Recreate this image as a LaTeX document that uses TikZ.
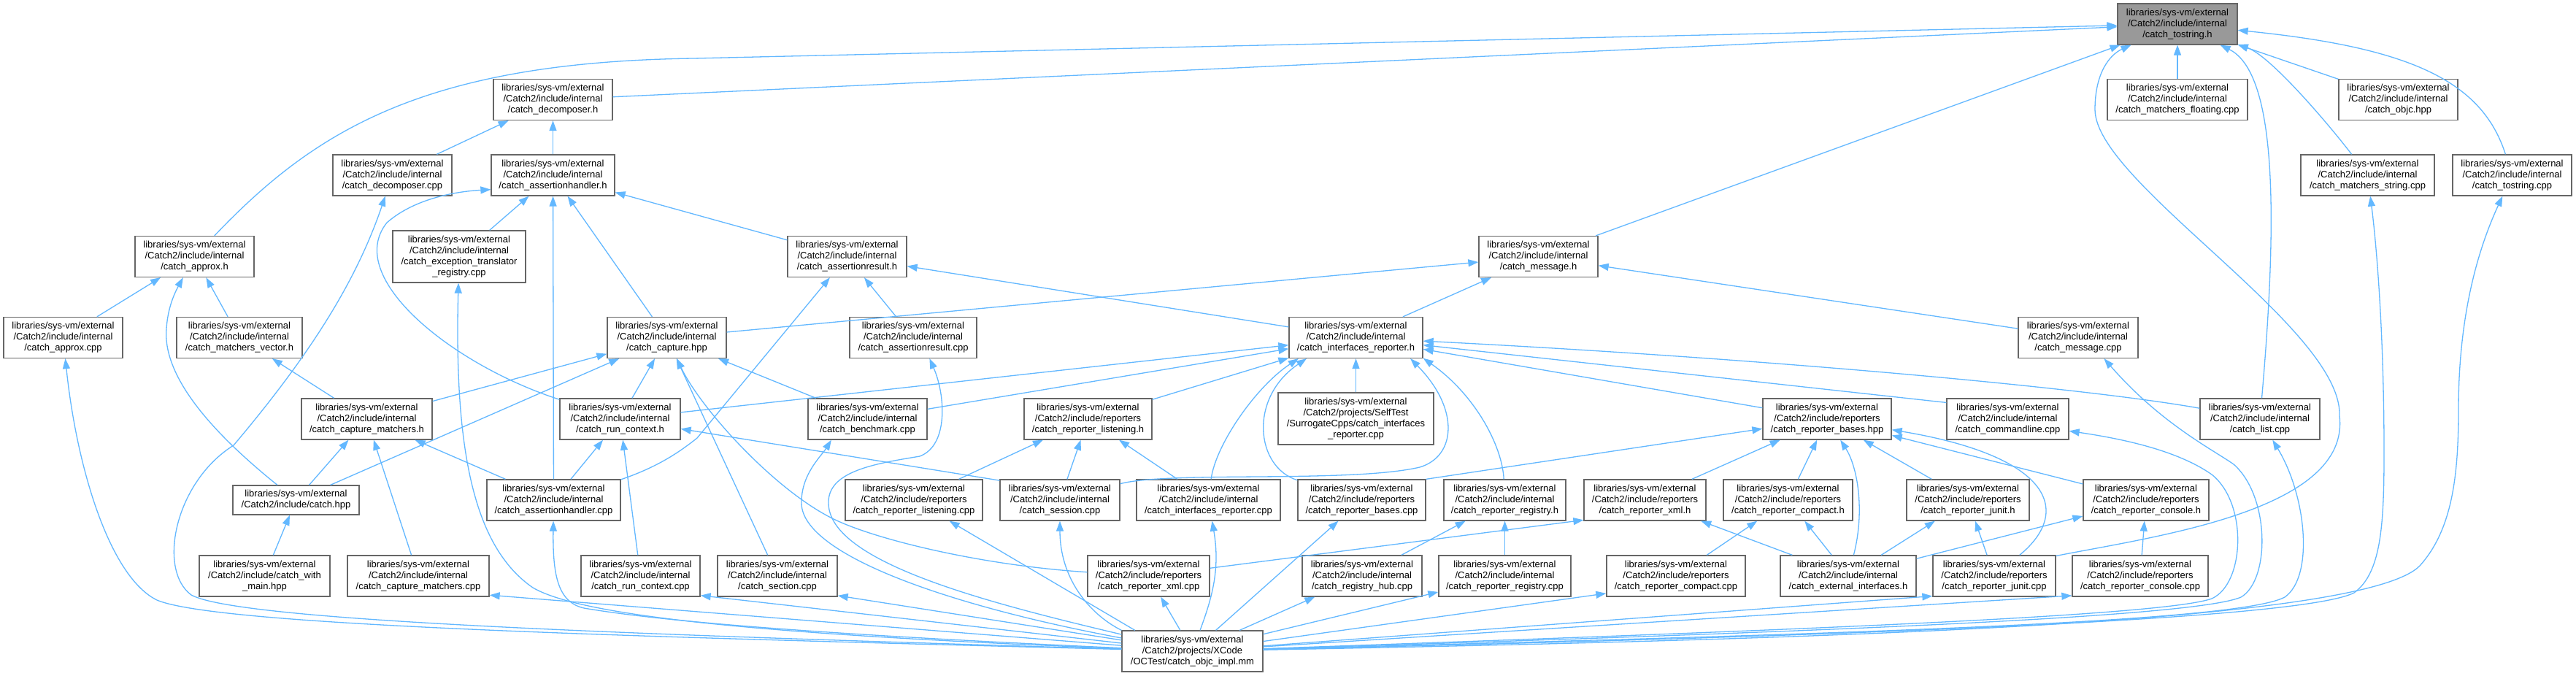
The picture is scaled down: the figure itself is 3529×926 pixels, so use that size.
\documentclass[tikz,border=0pt]{standalone}
\usepackage{fontspec}
\setmainfont{Liberation Sans}
\usetikzlibrary{arrows.meta}
\definecolor{edgeblue}{HTML}{63B8FF}
\definecolor{boxgray}{HTML}{666666}
\definecolor{rootgray}{HTML}{999999}
\newcommand{\LI}{libraries/sys-vm/external\\/Catch2/include/internal\\}
\newcommand{\LR}{libraries/sys-vm/external\\/Catch2/include/reporters\\}
\newcommand{\NB}[6][]{\node[box,#1,minimum width=#5pt] (#2) at (#3,-#4) {#6};}
\tikzset{
  box/.style={draw=boxgray, line width=1.3pt, fill=white, minimum height=56pt,
    inner sep=0pt, align=center, font=\fontsize{13}{15}\selectfont},
  rootbox/.style={fill=rootgray},
  fourline/.style={minimum height=71pt},
  twoline/.style={minimum height=40pt},
  dep/.style={draw=edgeblue, line width=1.3pt, -{Triangle[length=14pt,width=10pt]}},
}
\begin{document}
\begin{tikzpicture}[x=1pt,y=1pt]
\useasboundingbox[fill=white] (0,0) rectangle (3529,-926);
% row 0
\NB[rootbox]{T}{2983}{33}{164}{\LI/catch\_tostring.h}
% row 1
\NB{DH}{757.5}{136.5}{163}{\LI/catch\_decomposer.h}
\NB{MF}{2983}{136.5}{192}{\LI/catch\_matchers\_floating.cpp}
\NB{OBJ}{3285.5}{136.5}{163}{\LI/catch\_objc.hpp}
% row 2
\NB{DC}{537.5}{240}{163}{\LI/catch\_decomposer.cpp}
\NB{AH}{757.5}{240}{169}{\LI/catch\_assertionhandler.h}
\NB{MS}{3243.5}{240}{183}{\LI/catch\_matchers\_string.cpp}
\NB{TC}{3441.5}{240}{163}{\LI/catch\_tostring.cpp}
% row 3
\NB{AXH}{266.5}{351.5}{163}{\LI/catch\_approx.h}
\NB[fourline]{EXC}{629}{351.5}{182}{\LI/catch\_exception\_translator\\\_registry.cpp}
\NB{ARH}{1160.5}{351.5}{163}{\LI/catch\_assertionresult.h}
\NB{MH}{2107.5}{351.5}{163}{\LI/catch\_message.h}
% row 4
\NB{AXC}{86.5}{462.5}{163}{\LI/catch\_approx.cpp}
\NB{MVH}{328}{462.5}{172}{\LI/catch\_matchers\_vector.h}
\NB{CAP}{913.5}{462.5}{163}{\LI/catch\_capture.hpp}
\NB{ARC}{1251}{462.5}{174}{\LI/catch\_assertionresult.cpp}
\NB{IRH}{1857.5}{462.5}{183}{\LI/catch\_interfaces\_reporter.h}
\NB{MC}{2847}{462.5}{164}{\LI/catch\_message.cpp}
% row 5
\NB{CMH}{502.5}{574}{179}{\LI/catch\_capture\_matchers.h}
\NB{RCH}{849.5}{574}{165}{\LI/catch\_run\_context.h}
\NB{BEN}{1188.5}{574}{163}{\LI/catch\_benchmark.cpp}
\NB{RLH}{1490.5}{574}{175}{\LR/catch\_reporter\_listening.h}
\NB[fourline]{ST}{1857.5}{573.5}{213}{libraries/sys-vm/external\\/Catch2/projects/SelfTest\\/SurrogateCpps/catch\_interfaces\\\_reporter.cpp}
\NB{RBH}{2503}{574}{176}{\LR/catch\_reporter\_bases.hpp}
\NB{CL}{2750.5}{574}{167}{\LI/catch\_commandline.cpp}
\NB{LC}{3096}{574}{164}{\LI/catch\_list.cpp}
% row 6
\NB[twoline]{CH}{405.5}{685}{173}{libraries/sys-vm/external\\/Catch2/include/catch.hpp}
\NB{AHC}{758.5}{685}{183}{\LI/catch\_assertionhandler.cpp}
\NB{RLC}{1252}{685}{188}{\LR/catch\_reporter\_listening.cpp}
\NB{SC}{1452}{685}{164}{\LI/catch\_session.cpp}
\NB{IRC}{1655.5}{685}{197}{\LI/catch\_interfaces\_reporter.cpp}
\NB{RBC}{1865.5}{685}{175}{\LR/catch\_reporter\_bases.cpp}
\NB{RRH}{2061.5}{685}{167}{\LI/catch\_reporter\_registry.h}
\NB{RXH}{2253.5}{685}{167}{\LR/catch\_reporter\_xml.h}
\NB{RCPH}{2449.5}{685}{177}{\LR/catch\_reporter\_compact.h}
\NB{RJH}{2696}{685}{168}{\LR/catch\_reporter\_junit.h}
\NB{RCOH}{2940}{685}{172}{\LR/catch\_reporter\_console.h}
% row 7
\NB{CWM}{362.5}{789}{179}{libraries/sys-vm/external\\/Catch2/include/catch\_with\\\_main.hpp}
\NB{CMC}{573}{789}{194}{\LI/catch\_capture\_matchers.cpp}
\NB{RCC}{877.5}{789}{163}{\LI/catch\_run\_context.cpp}
\NB{SEC}{1065}{789}{164}{\LI/catch\_section.cpp}
\NB{RXC}{1573.5}{789}{167}{\LR/catch\_reporter\_xml.cpp}
\NB{RHC}{1866}{789}{164}{\LI/catch\_registry\_hub.cpp}
\NB{RRC}{2061.5}{789}{181}{\LI/catch\_reporter\_registry.cpp}
\NB{RCPC}{2296}{789}{190}{\LR/catch\_reporter\_compact.cpp}
\NB{EXT}{2532}{789}{186}{\LI/catch\_external\_interfaces.h}
\NB{RJC}{2732}{789}{168}{\LR/catch\_reporter\_junit.cpp}
\NB{RCOC}{2932}{789}{186}{\LR/catch\_reporter\_console.cpp}
% row 8
\NB{OBJM}{1633.5}{892}{193}{libraries/sys-vm/external\\/Catch2/projects/XCode\\/OCTest/catch\_objc\_impl.mm}

% ---- edges into catch_tostring.h
\draw[dep] (MF) -- (T);
\draw[dep] (OBJ) -- (T);
\draw[dep] (DH) -- (T);
\draw[dep] (MH) -- (T);
\draw[dep] (AXH) .. controls (430,-180) and (580,-85) .. (950,-80) -- (T);
\draw[dep] (MS) .. controls (3190,-170) and (3110,-76) .. (T);
\draw[dep] (TC) .. controls (3400,-110) and (3300,-65) .. (T);
\draw[dep] (LC) .. controls (3120,-300) and (3120,-100) .. (T);
\draw[dep] (RJC.18) .. controls (2950,-735) and (3220,-700) .. (3205,-570) .. controls (3210,-450) and (2870,-250) .. (2870,-150) .. controls (2870,-100) and (2890,-75) .. (T);
% ---- upper left part
\draw[dep] (DC) -- (DH);
\draw[dep] (AH) -- (DH);
\draw[dep] (EXC) -- (AH);
\draw[dep] (AHC) -- (AH);
\draw[dep] (CAP) -- (AH);
\draw[dep] (ARH) -- (AH);
\draw[dep] (RCH) .. controls (620,-500) and (470,-380) .. (530,-305) .. controls (570,-270) and (630,-262) .. (AH.-167);
\draw[dep] (AXC) -- (AXH);
\draw[dep] (MVH) -- (AXH);
\draw[dep] (CH) .. controls (300,-600) and (222,-520) .. (228,-450) .. controls (230,-420) and (240,-400) .. (AXH);
\draw[dep] (CMH) -- (MVH);
\draw[dep] (CMH) -- (CAP);
\draw[dep] (CH) -- (CAP);
\draw[dep] (CH) -- (CMH);
\draw[dep] (CWM) -- (CH);
\draw[dep] (CMC) -- (CMH);
\draw[dep] (AHC) -- (CMH);
\draw[dep] (AHC) -- (RCH);
\draw[dep] (AHC.17) .. controls (900,-640) and (930,-620) .. (955,-600) -- (ARH);
\draw[dep] (RCC) -- (RCH);
\draw[dep] (RCH) -- (CAP);
\draw[dep] (SEC) -- (CAP);
\draw[dep] (RXC) .. controls (1350,-775) and (1200,-740) .. (1140,-710) .. controls (1060,-670) and (960,-560) .. (CAP);
\draw[dep] (BEN) -- (CAP);
\draw[dep] (CAP) -- (MH);
\draw[dep] (ARC) -- (ARH);
\draw[dep] (IRH) -- (ARH);
\draw[dep] (IRH) -- (MH);
\draw[dep] (MC) -- (MH);
% ---- into catch_interfaces_reporter.h
\draw[dep] (RCH) -- (IRH);
\draw[dep] (BEN) -- (IRH);
\draw[dep] (RLH) -- (IRH);
\draw[dep] (ST) -- (IRH);
\draw[dep] (IRC) .. controls (1665,-610) and (1720,-530) .. (IRH.-160);
\draw[dep] (RBC) .. controls (1720,-640) and (1710,-545) .. (IRH.-157);
\draw[dep] (SC) .. controls (1600,-645) and (1850,-662) .. (1945,-640) .. controls (1995,-625) and (2000,-560) .. (IRH.-21);
\draw[dep] (RRH) .. controls (2058,-610) and (2020,-540) .. (IRH.-17);
\draw[dep] (RBH) -- (IRH);
\draw[dep] (CL.165) -- (IRH);
\draw[dep] (LC) .. controls (2850,-530) and (2400,-490) .. (IRH);
\draw[dep] (RLC) -- (RLH);
\draw[dep] (SC) -- (RLH);
\draw[dep] (IRC) -- (RLH);
\draw[dep] (SC.162) -- (RCH);
% ---- reporters
\draw[dep] (RBC.18) -- (RBH);
\draw[dep] (RXH) -- (RBH);
\draw[dep] (RCPH) -- (RBH);
\draw[dep] (EXT) .. controls (2555,-700) and (2545,-640) .. (RBH);
\draw[dep] (RJH) -- (RBH);
\draw[dep] (RCOH) -- (RBH);
\draw[dep] (RJC) .. controls (2840,-700) and (2810,-625) .. (RBH);
\draw[dep] (RXC) -- (RXH.-162);
\draw[dep] (EXT) -- (RXH);
\draw[dep] (RCPC) -- (RCPH);
\draw[dep] (EXT) -- (RCPH);
\draw[dep] (EXT) -- (RJH);
\draw[dep] (RJC) -- (RJH);
\draw[dep] (EXT) -- (RCOH);
\draw[dep] (RCOC) -- (RCOH);
\draw[dep] (RHC) -- (RRH);
\draw[dep] (RRC) -- (RRH);
% ---- from catch_objc_impl.mm
\draw[dep] (OBJM) .. controls (900,-873) and (300,-858) .. (215,-822) .. controls (150,-790) and (105,-640) .. (AXC);
\draw[dep] (OBJM) .. controls (900,-870) and (330,-852) .. (262,-815) .. controls (215,-780) and (240,-660) .. (320,-610) .. controls (430,-480) and (490,-380) .. (DC);
\draw[dep] (OBJM) .. controls (1000,-868) and (790,-840) .. (730,-805) .. controls (650,-750) and (622,-620) .. (EXC);
\draw[dep] (OBJM) -- (CMC.-15);
\draw[dep] (OBJM) .. controls (1100,-868) and (900,-850) .. (800,-833) .. controls (765,-825) and (757,-790) .. (AHC);
\draw[dep] (OBJM) -- (RCC.-18);
\draw[dep] (OBJM) -- (SEC.-18);
\draw[dep] (OBJM) .. controls (1300,-830) and (1100,-760) .. (1098,-690) .. controls (1097,-650) and (1125,-625) .. (BEN.-150);
\draw[dep] (OBJM) .. controls (1350,-825) and (1137,-770) .. (1135,-690) .. controls (1133,-645) and (1200,-635) .. (1260,-625) .. controls (1300,-610) and (1295,-540) .. (ARC.-52);
\draw[dep] (OBJM.160) -- (RLC);
\draw[dep] (OBJM.north west) .. controls (1490,-840) and (1452,-790) .. (SC);
\draw[dep] (OBJM) .. controls (1660,-820) and (1672,-780) .. (IRC);
\draw[dep] (OBJM) -- (RXC);
\draw[dep] (OBJM) -- (RBC);
\draw[dep] (OBJM) -- (RHC);
\draw[dep] (OBJM) -- (RRC);
\draw[dep] (OBJM) -- (RCPC.-166);
\draw[dep] (OBJM) -- (RJC.-162);
\draw[dep] (OBJM) -- (RCOC.-164);
\draw[dep] (OBJM) .. controls (2400,-868) and (3000,-848) .. (3070,-818) .. controls (3110,-795) and (3110,-680) .. (3060,-636) .. controls (3030,-615) and (2960,-580) .. (MC.-39);
\draw[dep] (OBJM) .. controls (2400,-865) and (2960,-845) .. (3030,-820) .. controls (3075,-800) and (3080,-690) .. (3030,-650) .. controls (2980,-615) and (2900,-600) .. (CL.-11);
\draw[dep] (OBJM) .. controls (2450,-870) and (3060,-855) .. (3130,-818) .. controls (3170,-790) and (3160,-680) .. (LC);
\draw[dep] (OBJM) .. controls (2500,-872) and (3150,-850) .. (3225,-812) .. controls (3262,-785) and (3266,-720) .. (3266,-620) .. controls (3266,-450) and (3255,-330) .. (MS);
\draw[dep] (OBJM) .. controls (2550,-875) and (3240,-852) .. (3315,-775) .. controls (3360,-725) and (3368,-650) .. (3368,-560) .. controls (3368,-420) and (3400,-330) .. (TC);
\end{tikzpicture}
\end{document}
